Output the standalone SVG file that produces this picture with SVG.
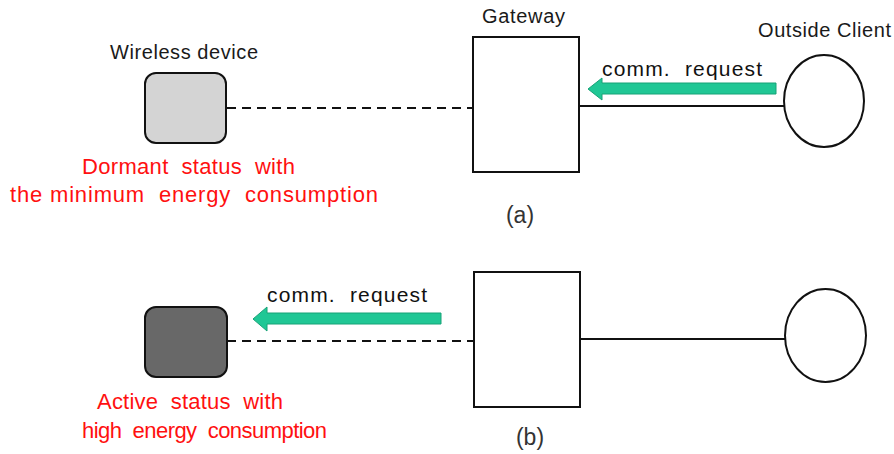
<svg xmlns="http://www.w3.org/2000/svg" width="894" height="454" viewBox="0 0 894 454">
<style>
.lbl{font-family:"Liberation Sans",Arial,sans-serif;font-size:20px;fill:#1a1a1a}
.req{font-family:"Liberation Sans",Arial,sans-serif;font-size:21px;fill:#111;white-space:pre}
.red{font-family:"Liberation Sans",Arial,sans-serif;font-size:22px;fill:#ff1010;white-space:pre}
.cap{font-family:"Liberation Sans",Arial,sans-serif;font-size:23px;fill:#333}
.box{fill:#fff;stroke:#111;stroke-width:2}
.dev{stroke:#111;stroke-width:2}
.ell{fill:#fff;stroke:#111;stroke-width:2}
.solid{stroke:#111;stroke-width:2;fill:none}
.dash{stroke:#111;stroke-width:2;stroke-dasharray:9 6;fill:none}
.arrow{fill:#20c795;stroke:#17a277;stroke-width:1}
</style>
<rect width="894" height="454" fill="#fff"/>
<g id="connectors">
<line class="dash" x1="227" y1="108" x2="472" y2="108"/>
<line class="solid" x1="579" y1="106" x2="784" y2="106"/>
<line class="dash" x1="227" y1="341" x2="474" y2="341"/>
<line class="solid" x1="580" y1="339" x2="785" y2="339"/>
<polygon class="arrow" points="776,83 602,83 602,78 588,89 602,100 602,94 776,94"/>
<polygon class="arrow" points="441,313 267,313 267,307 253,319 267,331 267,324 441,324"/>
</g>
<g id="label-comm-a"><text class="req" xml:space="preserve" x="602" y="76" textLength="160" lengthAdjust="spacing">comm.  request</text></g>
<g id="label-comm-b"><text class="req" xml:space="preserve" x="267" y="302" textLength="160" lengthAdjust="spacing">comm.  request</text></g>
<g id="device-a">
<text class="lbl" x="110" y="59" textLength="148" lengthAdjust="spacing">Wireless device</text>
<rect class="dev" x="145" y="73" width="81" height="70" rx="11" fill="#d4d4d4"/>
<text class="red" xml:space="preserve" x="82" y="174" textLength="213" lengthAdjust="spacing">Dormant  status  with</text>
<text class="red" xml:space="preserve" x="10" y="202" textLength="368" lengthAdjust="spacing">the minimum  energy  consumption</text>
</g>
<g id="gateway-a">
<text class="lbl" x="482" y="23" textLength="83" lengthAdjust="spacing">Gateway</text>
<rect class="box" x="473" y="37" width="106" height="135"/>
</g>
<g id="client-a">
<text class="lbl" x="758" y="37" textLength="133" lengthAdjust="spacing">Outside Client</text>
<ellipse class="ell" cx="824" cy="101" rx="40" ry="46"/>
</g>
<g id="caption-a"><text class="cap" x="520" y="223" text-anchor="middle">(a)</text></g>
<g id="device-b">
<rect class="dev" x="145" y="307" width="82" height="70" rx="11" fill="#686868"/>
<text class="red" xml:space="preserve" x="97" y="409" textLength="186" lengthAdjust="spacing">Active  status  with</text>
<text class="red" xml:space="preserve" x="82" y="438" textLength="245" lengthAdjust="spacing">high  energy  consumption</text>
</g>
<g id="gateway-b"><rect class="box" x="474" y="272" width="106" height="135"/></g>
<g id="client-b"><ellipse class="ell" cx="825.5" cy="335.5" rx="40.5" ry="46.5"/></g>
<g id="caption-b"><text class="cap" x="530" y="445" text-anchor="middle">(b)</text></g>
</svg>
